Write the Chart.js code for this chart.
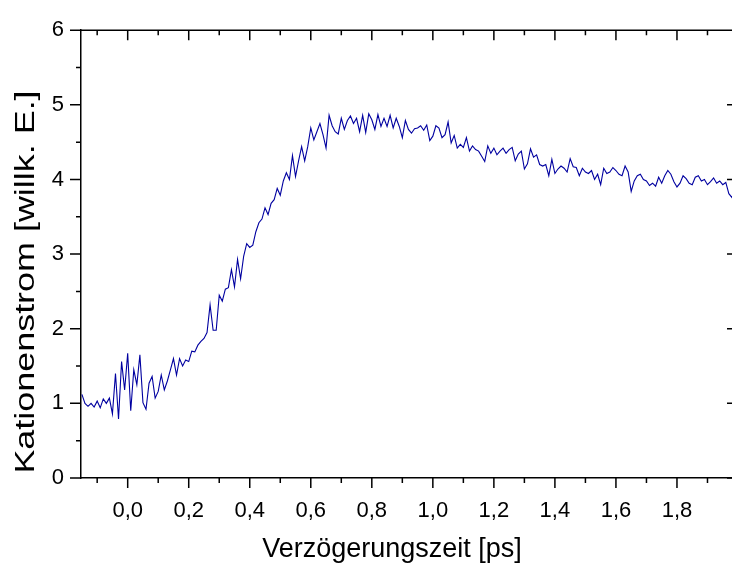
<!DOCTYPE html>
<html>
<head>
<meta charset="utf-8">
<script src="https://cdn.jsdelivr.net/npm/chart.js@4.4.1/dist/chart.umd.min.js"></script>
<style>
  html, body { margin: 0; padding: 0; background: #fff; overflow: hidden; }
  #wrap { width: 732px; height: 563px; overflow: hidden; }
  canvas { display: block; }
</style>
</head>
<body>
<div id="wrap"><canvas id="myChart" width="740" height="563"></canvas></div>
<script>
// Messreihe: Zeitachse startet bei -0,15 ps, Abstand 0,01 ps
const xStart = -0.15;
const xStep = 0.01;
const kationenstrom = [
  1.12, 1.00, 0.96, 1.00, 0.95, 1.03, 0.94, 1.06, 1.00, 1.07,
  0.86, 1.40, 0.79, 1.56, 1.18, 1.67, 0.90, 1.45, 1.25, 1.65,
  1.01, 0.92, 1.27, 1.36, 1.07, 1.16, 1.38, 1.18, 1.30, 1.45,
  1.60, 1.38, 1.60, 1.50, 1.58, 1.56, 1.70, 1.69, 1.78, 1.83,
  1.87, 1.95, 2.32, 1.98, 1.98, 2.45, 2.37, 2.53, 2.55, 2.79,
  2.56, 2.93, 2.67, 2.97, 3.14, 3.09, 3.12, 3.30, 3.42, 3.47,
  3.62, 3.53, 3.68, 3.73, 3.88, 3.79, 3.98, 4.09, 4.00, 4.32,
  4.04, 4.25, 4.44, 4.25, 4.44, 4.69, 4.53, 4.64, 4.75, 4.60,
  4.42, 4.86, 4.72, 4.64, 4.61, 4.82, 4.67, 4.79, 4.85, 4.75,
  4.82, 4.64, 4.86, 4.63, 4.88, 4.80, 4.67, 4.87, 4.71, 4.82,
  4.71, 4.86, 4.69, 4.82, 4.71, 4.56, 4.79, 4.67, 4.62, 4.68,
  4.69, 4.72, 4.66, 4.73, 4.52, 4.58, 4.72, 4.69, 4.56, 4.60,
  4.77, 4.49, 4.59, 4.42, 4.47, 4.43, 4.56, 4.38, 4.45, 4.40,
  4.38, 4.31, 4.24, 4.45, 4.35, 4.42, 4.33, 4.38, 4.42, 4.35,
  4.40, 4.43, 4.25, 4.34, 4.38, 4.14, 4.21, 4.41, 4.30, 4.33,
  4.20, 4.18, 4.20, 4.05, 4.27, 4.08, 4.14, 4.18, 4.15, 4.10,
  4.28, 4.17, 4.16, 4.05, 4.15, 4.10, 4.08, 4.12, 4.00, 4.07,
  3.93, 4.15, 4.08, 4.10, 4.16, 4.12, 4.07, 4.05, 4.18, 4.10,
  3.84, 3.98, 4.05, 4.07, 4.00, 3.98, 3.92, 3.95, 3.91, 4.03,
  3.95, 4.05, 4.12, 4.07, 3.97, 3.90, 3.95, 4.05, 4.01, 3.95,
  3.93, 4.03, 4.05, 3.98, 4.00, 3.93, 3.97, 4.02, 3.95, 3.98,
  3.93, 3.96, 3.81, 3.76, 3.85, 3.80
];
const xTickValues = [0, 0.2, 0.4, 0.6, 0.8, 1.0, 1.2, 1.4, 1.6, 1.8];
const yTickValues = [0, 1, 2, 3, 4, 5, 6];
const xTitle = 'Verzögerungszeit [ps]';
const yTitle = 'Kationenstrom [willk. E.]';

const points = kationenstrom.map((v, i) => ({ x: xStart + i * xStep, y: v }));
const fontFam = "Arial, 'Liberation Sans', sans-serif";

// Achsenstriche (groß/klein) auf allen vier Seiten + Achsentitel
const frameTicks = {
  id: 'frameTicks',
  afterDraw(chart) {
    const { ctx, chartArea: a, scales } = chart;
    ctx.save();
    ctx.strokeStyle = '#000';
    ctx.lineWidth = 1.5;
    ctx.beginPath();
    // Rahmen oben
    ctx.moveTo(a.left, a.top); ctx.lineTo(a.right, a.top);
    for (let k = -1; k <= 20; k++) {
      const px = scales.x.getPixelForValue(k / 10);
      if (px < a.left) continue;
      const len = k % 2 === 0 ? 10 : 5;
      ctx.moveTo(px, a.bottom); ctx.lineTo(px, a.bottom + len);
      ctx.moveTo(px, a.top); ctx.lineTo(px, a.top + len);
    }
    for (let k = 0; k <= 12; k++) {
      const py = scales.y.getPixelForValue(k / 2);
      const len = k % 2 === 0 ? 11 : 5;
      ctx.moveTo(a.left, py); ctx.lineTo(a.left - len, py);
      ctx.moveTo(a.right, py); ctx.lineTo(a.right - len, py);
    }
    ctx.stroke();

    ctx.fillStyle = '#000';
    ctx.font = '27px ' + fontFam;
    ctx.textAlign = 'center';
    ctx.textBaseline = 'alphabetic';
    ctx.fillText(xTitle, 392, 557);
    // y-Titel ist im Original in Leserichtung gestreckt
    ctx.translate(27, 282);
    ctx.rotate(-Math.PI / 2);
    ctx.scale(1.33, 1);
    ctx.textBaseline = 'middle';
    ctx.fillText(yTitle, 0, 0);
    ctx.restore();
  }
};

const ctx = document.getElementById('myChart').getContext('2d');
new Chart(ctx, {
  type: 'line',
  data: {
    datasets: [{
      data: points,
      borderColor: '#0000a0',
      borderWidth: 1.1,
      pointRadius: 0,
      tension: 0,
      fill: false
    }]
  },
  options: {
    responsive: false,
    animation: false,
    layout: { padding: { top: 24, right: 2, left: 0, bottom: 0 } },
    plugins: { legend: { display: false }, tooltip: { enabled: false } },
    scales: {
      x: {
        type: 'linear',
        min: -0.153,
        max: 2.0,
        afterBuildTicks: (s) => { s.ticks = xTickValues.map(v => ({ value: v })); },
        afterFit: (s) => { s.height = 85; },
        grid: { display: false, drawTicks: false },
        border: { display: true, color: '#000', width: 1.5 },
        ticks: {
          color: '#000',
          font: { family: fontFam, size: 22 },
          padding: 20,
          maxRotation: 0,
          autoSkip: false,
          callback: (v) => v.toFixed(1).replace('.', ',')
        }
      },
      y: {
        min: 0,
        max: 6,
        afterBuildTicks: (s) => { s.ticks = yTickValues.map(v => ({ value: v })); },
        afterFit: (s) => { s.width = 81; },
        grid: { display: false, drawTicks: false },
        border: { display: true, color: '#000', width: 1.5 },
        ticks: {
          color: '#000',
          font: { family: fontFam, size: 22 },
          padding: 17,
          autoSkip: false,
          callback: (v) => String(v)
        }
      }
    }
  },
  plugins: [frameTicks]
});
</script>
</body>
</html>
